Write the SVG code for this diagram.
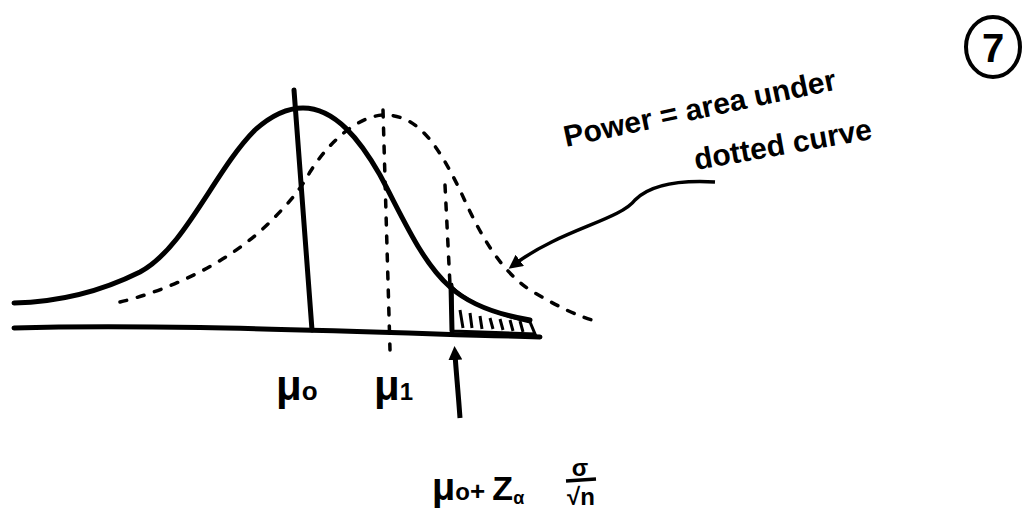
<svg xmlns="http://www.w3.org/2000/svg" width="1024" height="514" viewBox="0 0 1024 514">
<defs>
<style>
.solid{fill:none;stroke:#000;stroke-width:5;stroke-linecap:round;stroke-linejoin:round}
.dash{fill:none;stroke:#000;stroke-width:3.5;stroke-dasharray:7 11;stroke-linecap:round}
.hand{font-family:"Liberation Sans",Arial,sans-serif;font-weight:bold;fill:#000}
</style>
<marker id="ah" markerWidth="14" markerHeight="14" refX="6" refY="7" orient="auto" markerUnits="userSpaceOnUse" viewBox="0 0 14 14">
<path d="M0,0 L14,7 L0,14 Z" fill="#000"/>
</marker>
</defs>
<rect width="1024" height="514" fill="#fff"/>
<g id="axis">
<path class="solid" d="M14,328 C150,324 300,330 540,337" stroke-width="4"/>
</g>
<g id="curve-h0">
<path class="solid" d="M14,303 C60,302 100,292 140,272 C185,248 215,170 255,130 C274,113 290,108 303,108 C335,108 360,140 380,175 C405,222 422,262 450,287 C470,305 500,315 530,320"/>
<path class="solid" d="M294,90 L312,330"/>
</g>
<g id="curve-h1">
<path class="dash" d="M120,302 C170,290 230,262 270,222 C290,202 300,190 310,172 C330,140 360,115 385,115 C420,115 440,150 460,190 C480,235 500,270 530,290 C555,305 580,318 600,322"/>
<path class="dash" d="M383,110 L390,350"/>
<path class="dash" d="M445,185 L450,285"/>
</g>
<g id="power-region">
<path d="M452,287 C470,305 500,315 530,322 L535,334 L452,331 Z" fill="none" stroke="#000" stroke-width="3"/>
<path class="solid" d="M451,285 L452,331"/>
<path d="M460,310 L463,328 M470,313 L472,328 M480,316 L482,329 M490,318 L493,329 M500,319 L503,330 M510,320 L513,331 M520,321 L523,332" stroke="#000" stroke-width="3" fill="none"/>
</g>
<g id="connectors">
<path d="M715,182 C680,180 650,185 635,200 C620,220 560,230 515,264" fill="none" stroke="#000" stroke-width="3.5" marker-end="url(#ah)"/>
<path d="M460,418 C458,390 456,370 455,354" fill="none" stroke="#000" stroke-width="5" marker-end="url(#ah)"/>
</g>
<g id="label-mu0">
<text class="hand" x="276" y="400" font-size="42">μ<tspan font-size="26">o</tspan></text>
</g>
<g id="label-mu1">
<text class="hand" x="374" y="400" font-size="42">μ<tspan font-size="24">1</tspan></text>
</g>
<g id="label-critical">
<text class="hand" x="432" y="500" font-size="38">μ<tspan font-size="24">o</tspan><tspan font-size="26">+ </tspan><tspan font-size="34">Z</tspan><tspan font-size="18" dy="4">α</tspan></text>
<text class="hand" x="580" y="476" font-size="24" text-anchor="middle">σ</text>
<path d="M566,481 L596,479" stroke="#000" stroke-width="3.5"/>
<text class="hand" x="581" y="505" font-size="24" text-anchor="middle">√n</text>
</g>
<g id="label-power">
<text class="hand" font-size="30" transform="translate(566,147) rotate(-12)">Power = area under</text>
<text class="hand" font-size="30" transform="translate(696,170) rotate(-10)">dotted curve</text>
</g>
<g id="page-number">
<ellipse cx="993" cy="47" rx="27" ry="30" fill="none" stroke="#000" stroke-width="4"/>
<text class="hand" x="993" y="62" font-size="40" text-anchor="middle">7</text>
</g>
</svg>
